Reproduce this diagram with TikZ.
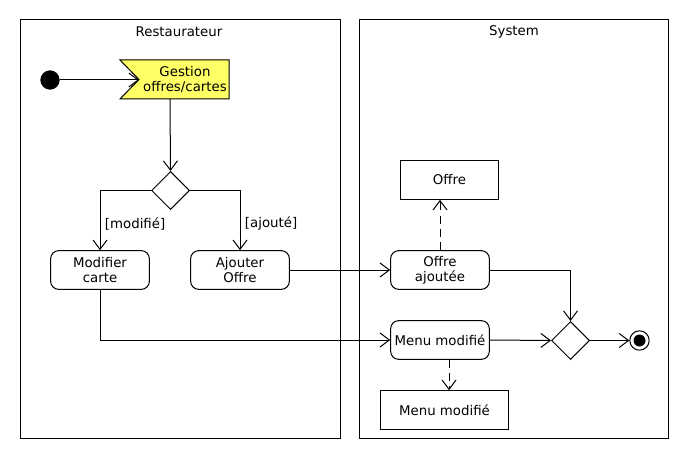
\documentclass[tikz,border=0pt]{standalone}
\usepackage{fontspec}
\setmainfont{DejaVu Sans}
\usetikzlibrary{arrows.meta,shapes.geometric}
\definecolor{sigyellow}{HTML}{FFFF66}
\begin{document}
\begin{tikzpicture}[x=0.75pt,y=-0.75pt,
  every node/.style={font=\fontsize{10pt}{11.5pt}\selectfont},
  line/.style={line width=0.75pt},
  flow/.style={line, -{Straight Barb[length=7pt,width=10.5pt,line width=0.75pt]}},
  dep/.style={flow, dash pattern=on 6pt off 4pt},
  act/.style={draw, line width=0.75pt, rounded corners=6pt, minimum width=74pt, minimum height=29pt, inner sep=0pt, align=center},
  obj/.style={draw, line width=0.75pt, minimum height=29pt, inner sep=0pt, align=center},
  dec/.style={draw, line width=0.75pt, diamond, minimum width=28.5pt, minimum height=28.5pt, inner sep=0pt, aspect=1},
  lane/.style={draw, line width=0.75pt}
]
\useasboundingbox (0,0) rectangle (690,460);
% swimlanes
\draw[lane] (20,20) rectangle (340,438);
\draw[lane] (359,20) rectangle (668,438);
\node (laneR) at (179,32) {Restaurateur};
\node (laneS) at (514,32) {System};
% initial
\node[circle, fill=black, minimum size=14.5pt, inner sep=0pt] (init) at (50,80) {};
% signal receive
\draw[line, fill=sigyellow] (120,60) -- (229,60) -- (229,99) -- (120,99) -- (139,79.5) -- cycle;
\coordinate (sigin) at (139,80);
\coordinate (sigbot) at (170,99);
\node[align=center] (sig) at (185,79.5) {Gestion\\offres/cartes};
% decision
\node[dec] (d1) at (170.5,190.5) {};
% actions
\node[act] (modif) at (100,270) {Modifier\\carte};
\node[act] (ajout) at (240,270) {Ajouter\\Offre};
\node[act] (oajout) at (440,270) {Offre\\ajoutée};
\node[act] (mmod) at (440,340) {Menu modifié};
\node[obj, minimum width=74pt] (offre) at (449.5,180) {Offre};
\node[obj, minimum width=96.5pt] (mobj) at (444.5,410) {Menu modifié};
% merge
\node[dec] (d2) at (570.5,340.5) {};
% final
\node[circle, draw, line width=0.75pt, minimum size=14.5pt, inner sep=0pt] (final) at (639.5,340.5) {};
\fill (final.center) circle (4.5pt);
% flows
\draw[flow] (init) -- (sigin);
\draw[flow] (sigbot) -- (d1.north);
\draw[flow] (d1.west) -| node[pos=0.78, right] {[modifié]} (modif.north);
\draw[flow] (d1.east) -| node[pos=0.78, right] {[ajouté]} (ajout.north);
\draw[flow] (ajout.east) -- (oajout.west);
\draw[flow] (modif.south) |- (mmod.west);
\draw[dep] (oajout.north) -- (oajout.north |- offre.south);
\coordinate (mmodb) at (449,359.5);
\draw[dep] (mmodb) -- (mmodb |- mobj.north);
\draw[flow] (oajout.east) -| (d2.north);
\draw[flow] (mmod.east) -- (d2.west);
\draw[flow] (d2.east) -- (final.west);
\end{tikzpicture}
\end{document}
